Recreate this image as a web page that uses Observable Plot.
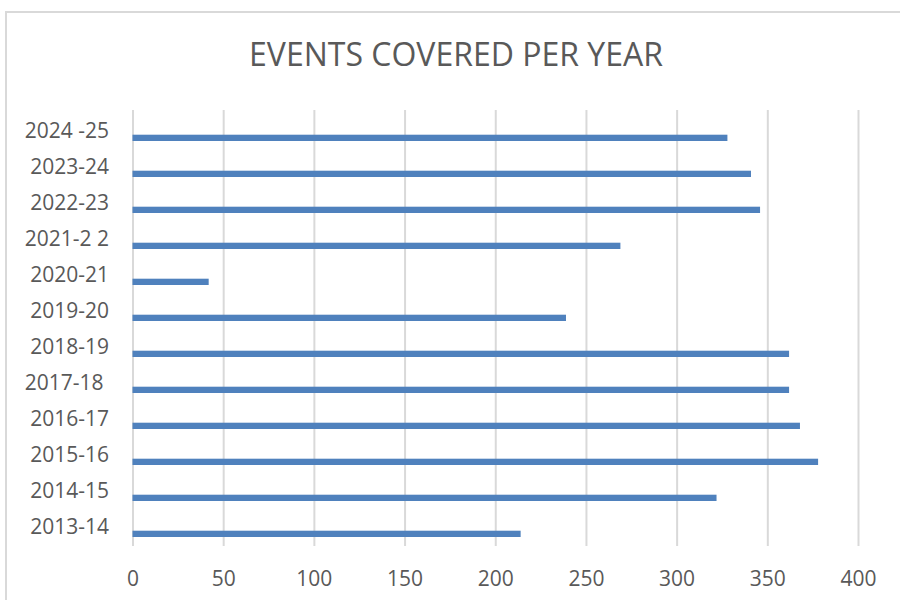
<!DOCTYPE html>
<html>
<head>
<meta charset="utf-8">
<script src="https://cdn.jsdelivr.net/npm/d3@7"></script>
<script src="https://cdn.jsdelivr.net/npm/@observablehq/plot@0.6"></script>
<style>
  html, body { margin: 0; padding: 0; background: #fff; }
  #wrap { position: relative; width: 900px; height: 600px; overflow: hidden; background: #fff; }
  #border { position: absolute; left: 5px; top: 11px; width: 1000px; height: 700px; border: 2px solid #d9d9d9; box-sizing: border-box; }
  #title { position: absolute; left: 0; width: 912px; top: 34px; text-align: center;
           font-family: "Open Sans", sans-serif; font-size: 32px; line-height: 40px; color: #595959; white-space: nowrap; }
  #chart { position: absolute; left: 0; top: 0; }
  #chart svg text { white-space: pre; }
</style>
</head>
<body>
<div id="wrap">
  <div id="border"></div>
  <div id="title">EVENTS COVERED PER YEAR</div>
  <div id="chart"></div>
</div>
<script>
const years = ["2013-14", "2014-15", "2015-16", "2016-17", "2017-18 ", "2018-19", "2019-20", "2020-21", "2021-2 2", "2022-23", "2023-24", "2024 -25"];
const events = [214, 322, 378, 368, 362, 362, 239, 42, 269, 346, 341, 328];
const xTicks = [0, 50, 100, 150, 200, 250, 300, 350, 400];

const data = years.map((y, i) => ({year: y, value: events[i]}));

const chart = Plot.plot({
  width: 900,
  height: 600,
  marginLeft: 132.5,
  marginRight: 42,
  marginTop: 110,
  marginBottom: 54,
  style: {fontFamily: "'Open Sans', sans-serif", fontSize: "21px", color: "#595959", background: "transparent"},
  x: {domain: [0, 400], label: null},
  y: {domain: years.slice().reverse(), padding: 0, label: null},
  marks: [
    Plot.gridX(xTicks, {stroke: "#d9d9d9", strokeWidth: 2, strokeOpacity: 1}),
    Plot.barX(data, {x: "value", y: "year", fill: "#4f81bd", insetTop: 22.7, insetBottom: 7}),
    Plot.axisX(xTicks, {tickSize: 0, tickPadding: 25, fill: "#595959", fontSize: 21, label: null}),
    Plot.axisY({tickSize: 0, tickPadding: 24, dy: 1, fill: "#595959", fontSize: 21, label: null})
  ]
});
document.getElementById("chart").appendChild(chart);
</script>
</body>
</html>
